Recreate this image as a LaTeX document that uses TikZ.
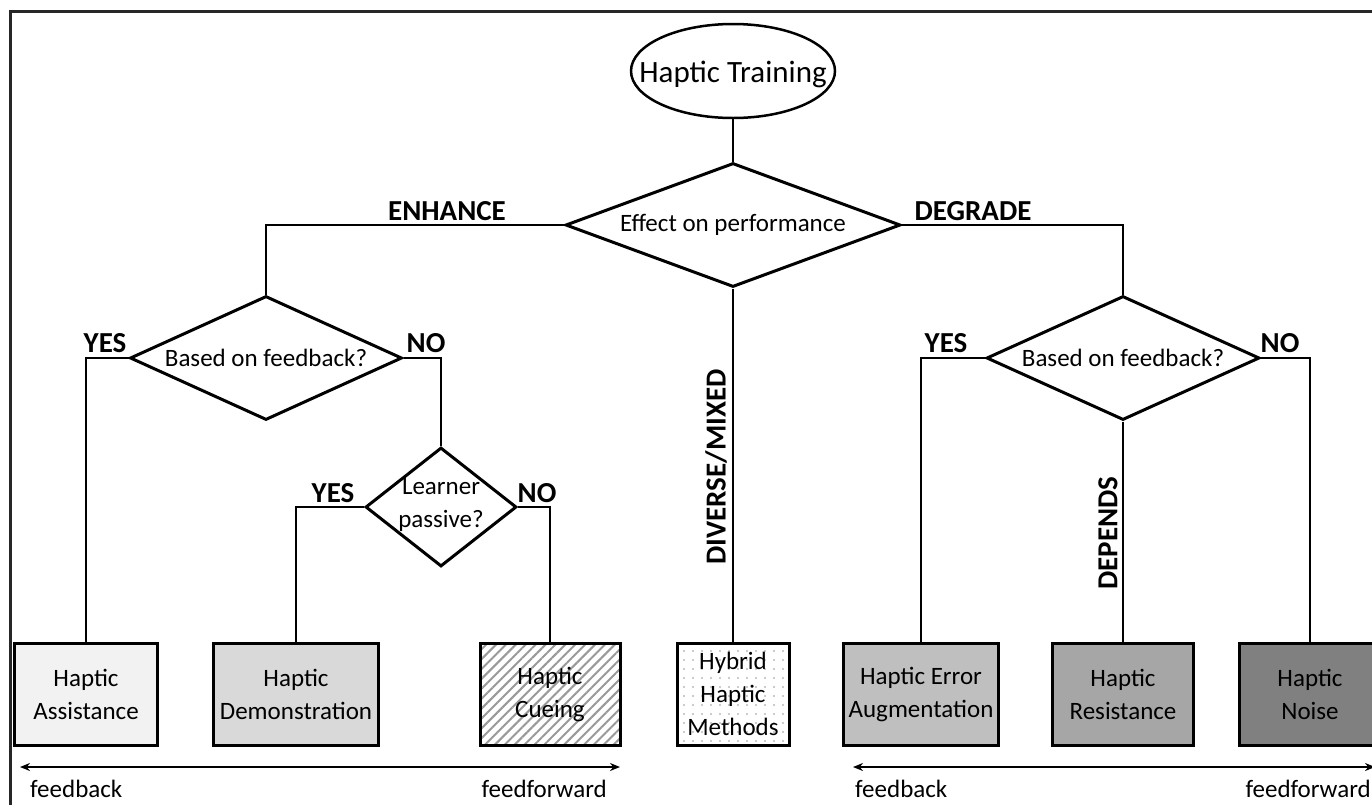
\documentclass[tikz,border=0pt]{standalone}
\usepackage{fontspec}
\setmainfont{Carlito}
\usetikzlibrary{shapes.geometric,patterns.meta,arrows.meta}

\tikzset{
  decision/.style={diamond, draw, line width=3pt, inner sep=0pt},
  leafbox/.style={draw, line width=3pt, inner sep=0pt, minimum height=102pt, align=center},
  answer/.style={font=\bfseries\fontsize{29}{33}\selectfont, inner sep=0pt},
  link/.style={line width=1.5pt},
  spanline/.style={line width=2pt, {Stealth[length=10pt,width=8pt]}-{Stealth[length=10pt,width=8pt]}},
}

\begin{document}
\begin{tikzpicture}[x=1pt, y=-1pt, font=\fontsize{25}{33}\selectfont]
    %%%%% FRAME %%%%%
    \useasboundingbox (0,0) rectangle (1372,804);
    \clip (0,0) rectangle (1372,804);
    \fill[white] (0,0) rectangle (1372,804);
    \draw[line width=3pt, black!85] (10,11) rectangle (1400,840);

    %%%%% DECISIONS %%%%%
    \node[ellipse, draw, line width=2.5pt, minimum width=204pt, minimum height=94pt] (train) at (733,71) {};
    \node[font=\fontsize{31}{36}\selectfont, inner sep=0pt] (traintxt) at (733,74) {Haptic Training};

    \node[decision, aspect=2.7, minimum width=335pt, minimum height=124pt] (perf) at (733,225) {Effect on performance};
    \node[decision, aspect=2.2, minimum width=272pt, minimum height=124pt] (enhq) at (266,358) {Based on feedback?};
    \node[decision, aspect=2.2, minimum width=273pt, minimum height=124pt] (degq) at (1123,358) {Based on feedback?};
    \node[decision, minimum width=151pt, minimum height=119pt] (passq) at (441,507) {};
    \node[align=center, inner sep=0pt] (passtxt) at (441,505) {Learner\\passive?};

    %%%%% METHODS %%%%%
    \node[leafbox, fill=black!5, minimum width=143pt] (assist) at (86,694) {Haptic\\Assistance};
    \node[leafbox, fill=black!15, minimum width=165pt] (demo) at (296,694) {Haptic\\Demonstration};
    \node[leafbox, pattern={Lines[angle=45,distance=7pt,line width=2pt]}, pattern color=black!40, minimum width=140pt] (cue) at (550,694) {Haptic\\Cueing};
    \node[leafbox, pattern={Dots[distance=9pt,radius=0.8pt]}, pattern color=black!40, minimum width=112pt] (hybrid) at (733,694) {Hybrid\\Haptic\\Methods};
    \node[leafbox, fill=black!25, minimum width=155pt] (erraug) at (921,694) {Haptic Error\\Augmentation};
    \node[leafbox, fill=black!35, minimum width=141pt] (resist) at (1123,694) {Haptic\\Resistance};
    \node[leafbox, fill=black!50, minimum width=142pt] (noise) at (1310,694) {Haptic\\Noise};

    %%%%% LINKS %%%%%
    \draw[link] (train) -- (perf);
    \draw[link] (perf.west) -| (enhq.north);
    \draw[link] (perf.east) -| (degq.north);
    \draw[link] (perf.south) -- (hybrid.north);
    \draw[link] (enhq.west) -| (assist.north);
    \draw[link] (enhq.east) -| (passq.north);
    \draw[link] (passq.west) -| (demo.north);
    \draw[link] (passq.east) -| (cue.north);
    \draw[link] (degq.west) -| (erraug.north);
    \draw[link] (degq.east) -| (noise.north);
    \draw[link] (degq.south) -- (resist.north);

    %%%%% LABELS %%%%%
    \node[answer] (lblenh) at (447,211) {ENHANCE};
    \node[answer] (lbldeg) at (973,211) {DEGRADE};
    \node[answer] (lblyes1) at (105,343) {YES};
    \node[answer] (lblno1) at (426,343) {NO};
    \node[answer] (lblyes2) at (333,493) {YES};
    \node[answer] (lblno2) at (537,493) {NO};
    \node[answer] (lblyes3) at (946,343) {YES};
    \node[answer] (lblno3) at (1280,343) {NO};
    \node[answer, rotate=90] (lblmix) at (716,467) {DIVERSE/MIXED};
    \node[answer, rotate=90] (lbldep) at (1108,533) {DEPENDS};

    %%%%% SCALES %%%%%
    \coordinate (fbl) at (20,767);
    \coordinate (ffl) at (620,767);
    \coordinate (fbr) at (853,767);
    \coordinate (ffr) at (1375,767);
    \draw[spanline] (fbl) -- (ffl);
    \draw[spanline] (fbr) -- (ffr);
    \node[anchor=west, inner sep=0pt] (fbltxt) at (30,789) {feedback};
    \node[anchor=east, inner sep=0pt] (ffltxt) at (607,789) {feedforward};
    \node[anchor=west, inner sep=0pt] (fbrtxt) at (855,789) {feedback};
    \node[anchor=east, inner sep=0pt] (ffrtxt) at (1371,789) {feedforward};
\end{tikzpicture}
\end{document}
